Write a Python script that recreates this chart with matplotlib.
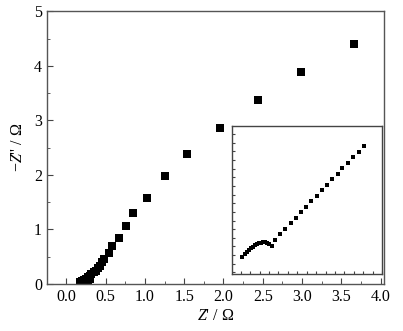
import numpy as np
import matplotlib
matplotlib.use("Agg")
import matplotlib.pyplot as plt
from matplotlib.ticker import MultipleLocator, NullFormatter

plt.rcParams['font.family'] = ['Liberation Serif', 'DejaVu Serif']
plt.rcParams['mathtext.fontset'] = 'custom'
plt.rcParams['mathtext.rm'] = 'Liberation Serif'
plt.rcParams['mathtext.it'] = 'Liberation Serif:italic'

# main Nyquist data (Z' / Ohm, -Z'' / Ohm)
z_re = [0.169, 0.19, 0.198, 0.22, 0.228, 0.25, 0.253, 0.274, 0.28, 0.295, 0.30,
        0.316, 0.346, 0.371, 0.397, 0.422, 0.451, 0.481, 0.544, 0.578, 0.675,
        0.764, 0.844, 1.03, 1.26, 1.54, 1.96, 2.44, 2.99, 3.66]
z_im = [0.043, 0.03, 0.055, 0.04, 0.073, 0.05, 0.098, 0.122, 0.07, 0.146, 0.09,
        0.183, 0.214, 0.244, 0.287, 0.336, 0.403, 0.464, 0.568, 0.690, 0.836,
        1.062, 1.295, 1.57, 1.98, 2.38, 2.86, 3.37, 3.88, 4.40]

# inset (high-frequency region)
ins_re = [0.158, 0.173, 0.183, 0.194, 0.204, 0.215, 0.225, 0.236, 0.247, 0.257,
          0.268, 0.278, 0.289, 0.299, 0.314,
          0.331, 0.357, 0.385, 0.414, 0.442, 0.470, 0.498, 0.525, 0.553, 0.581,
          0.609, 0.636, 0.664, 0.690, 0.718, 0.745, 0.775, 0.803]
ins_im = [0.081, 0.112, 0.135, 0.158, 0.178, 0.197, 0.213, 0.224, 0.236, 0.243,
          0.247, 0.247, 0.243, 0.231, 0.208,
          0.274, 0.340, 0.401, 0.467, 0.528, 0.594, 0.659, 0.721, 0.783, 0.849,
          0.913, 0.979, 1.040, 1.106, 1.168, 1.234, 1.295, 1.361]

fig = plt.figure(figsize=(4.03, 3.31), dpi=100)
ax = fig.add_axes([0.116, 0.142, 0.838, 0.824])
ax.plot(z_re, z_im, 's', color='black', ms=5.8, mew=0)
ax.set_xlim(-0.25, 4.05)
ax.set_ylim(0, 5)
ax.xaxis.set_minor_locator(MultipleLocator(0.25))
ax.yaxis.set_major_locator(MultipleLocator(1))
ax.yaxis.set_minor_locator(MultipleLocator(0.5))
ax.set_xticks(np.arange(0, 4.01, 0.5))
ax.set_xticklabels(['%.1f' % v for v in np.arange(0, 4.01, 0.5)])
ax.tick_params(which='both', direction='in', top=False, right=False,
               labelsize=11.5, color='#444444')
ax.tick_params(which='major', length=4)
ax.tick_params(which='minor', length=2.5)
for s in ax.spines.values():
    s.set_color('#555555')
    s.set_linewidth(1.0)
ax.set_xlabel(r"$Z$' / Ω", fontsize=11.5, labelpad=2)
ax.set_ylabel(r"−$Z$'' / Ω", fontsize=11.5, labelpad=6)

# inset
axi = fig.add_axes([0.576, 0.172, 0.372, 0.447])
axi.plot(ins_re, ins_im, 's', color='black', ms=3.3, mew=0)
axi.set_xlim(0.104, 0.90)
axi.set_ylim(-0.119, 1.592)
axi.xaxis.set_major_locator(MultipleLocator(0.05))
axi.yaxis.set_major_locator(MultipleLocator(0.1))
axi.xaxis.set_major_formatter(NullFormatter())
axi.yaxis.set_major_formatter(NullFormatter())
axi.tick_params(direction='in', length=2.5, width=0.8, color='#444444',
                top=False, right=False)
for s in axi.spines.values():
    s.set_color('#444444')
    s.set_linewidth(1.0)

fig.savefig('out.png', dpi=100)
